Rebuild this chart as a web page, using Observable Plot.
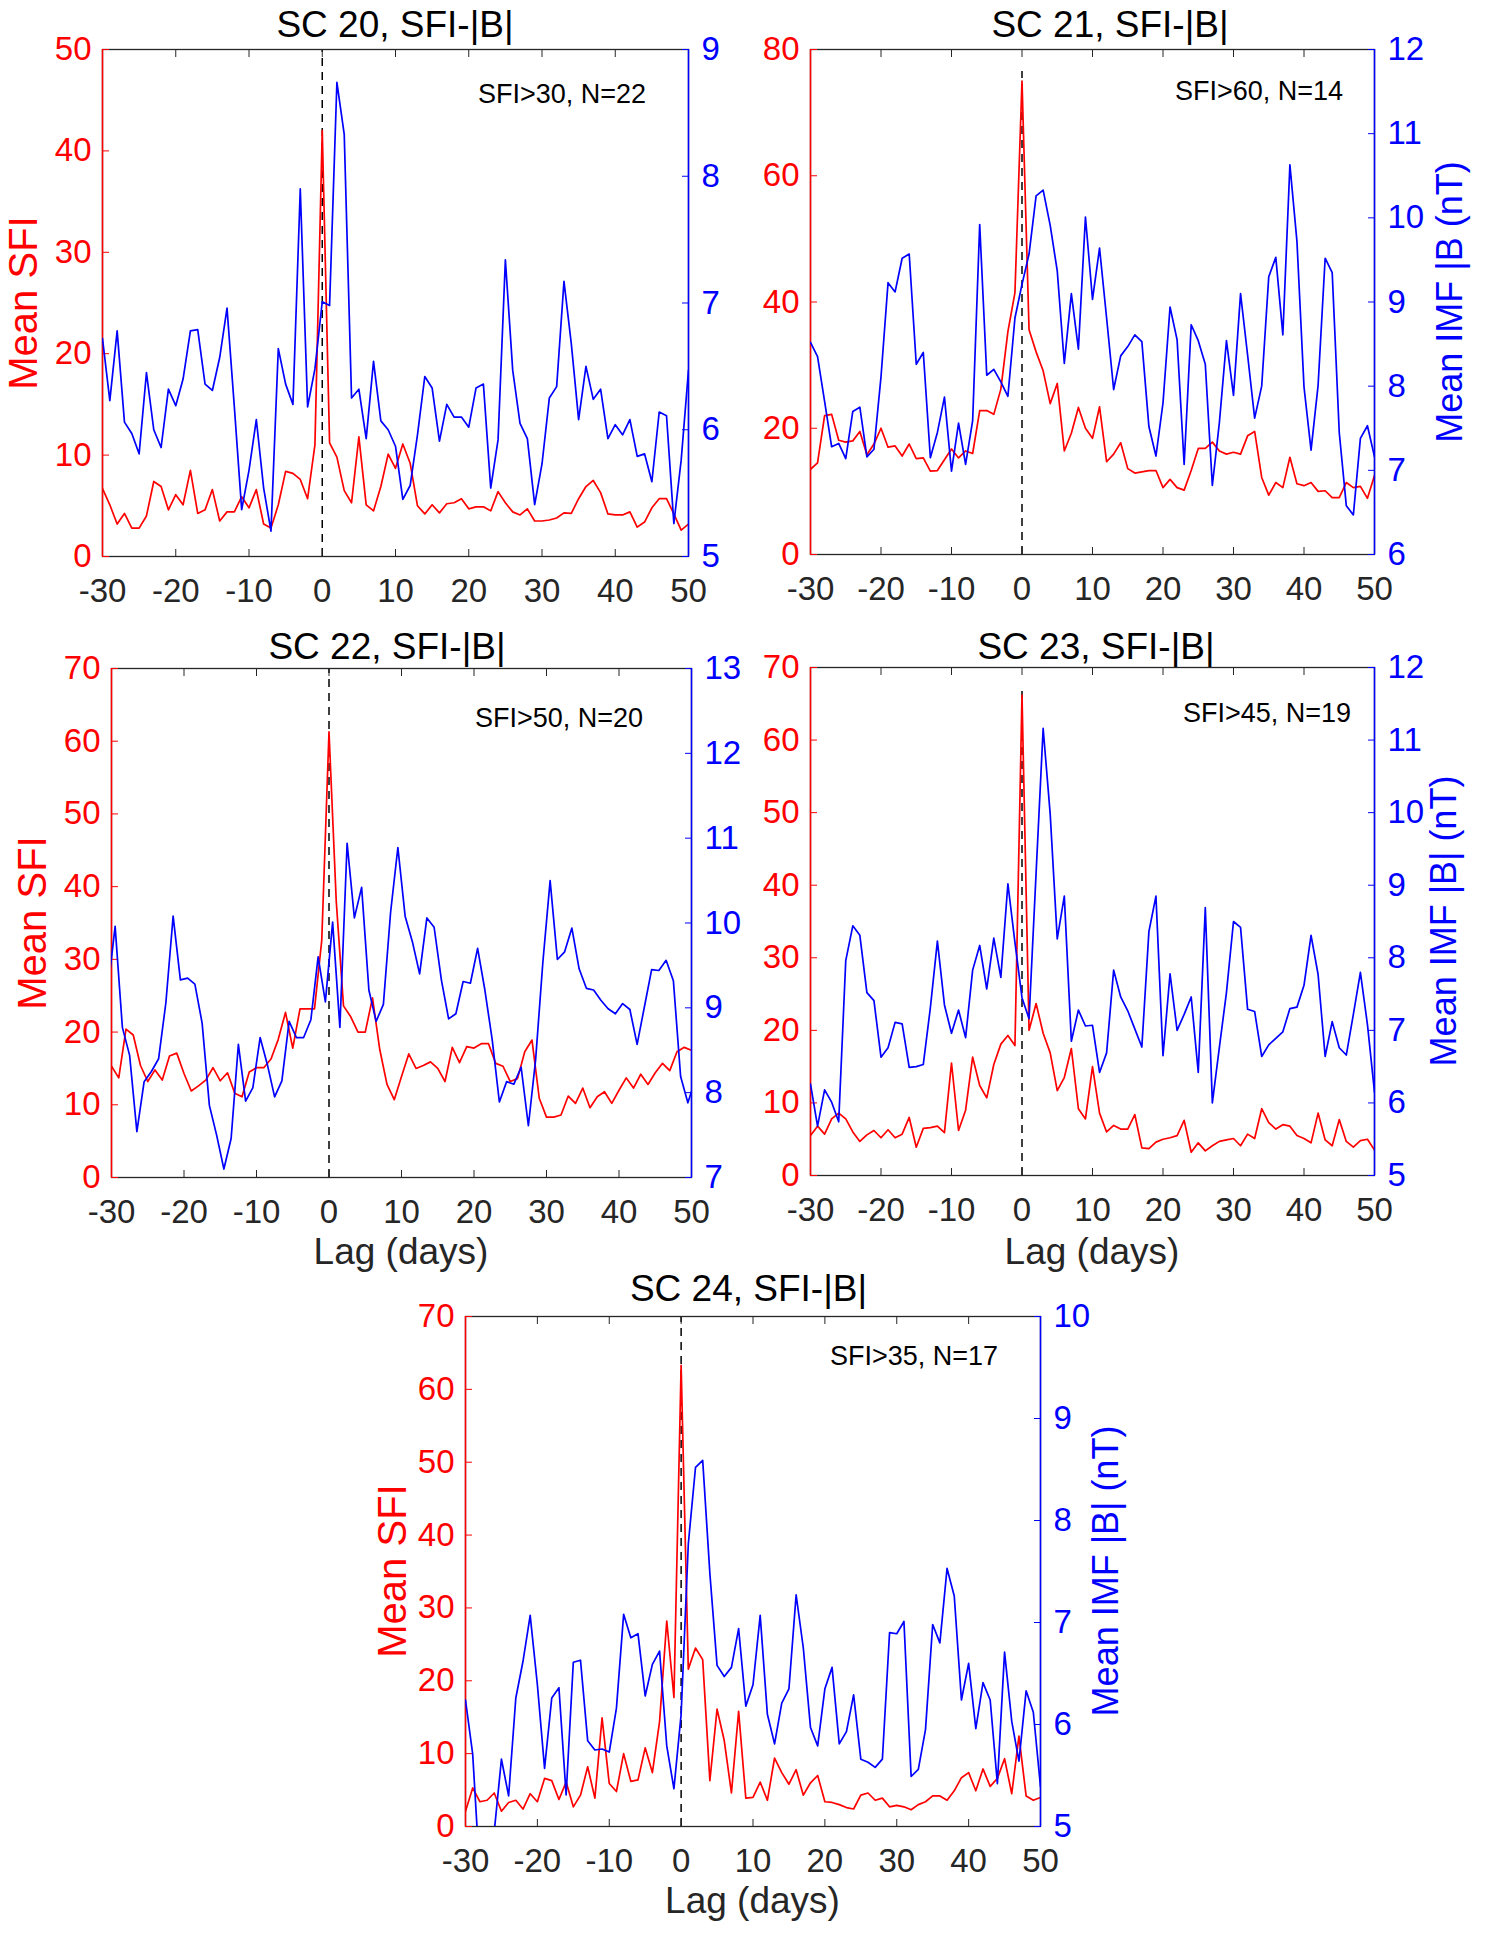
<!DOCTYPE html>
<html><head><meta charset="utf-8">
<script src="https://cdn.jsdelivr.net/npm/d3@7"></script>
<script src="https://cdn.jsdelivr.net/npm/@observablehq/plot@0.6"></script>
<style>
body{margin:0;background:#fff;}
#fig{position:relative;width:1490px;height:1938px;background:#fff;overflow:hidden;font-family:"Liberation Sans",Arial,Helvetica,sans-serif;}
.abs{position:absolute;white-space:nowrap;line-height:1;}
</style></head>
<body><div id="fig"></div>
<script>
// ---------------- data ----------------
const lags = d3.range(-30, 51);            // -30 .. 50 days
const lagsHalf = d3.range(-30.5, 51, 1);   // -30.5 .. 50.5 (SC 22 |B| sampling)
const xTicks = [-30, -20, -10, 0, 10, 20, 30, 40, 50];

const titles = ["SC 20, SFI-|B|", "SC 21, SFI-|B|", "SC 22, SFI-|B|", "SC 23, SFI-|B|", "SC 24, SFI-|B|"];
const notes = ["SFI>30, N=22", "SFI>60, N=14", "SFI>50, N=20", "SFI>45, N=19", "SFI>35, N=17"];
const sfiLabel = "Mean SFI";
const imfLabels = [null, "Mean IMF |B (nT)", null, "Mean IMF |B| (nT)", "Mean IMF |B| (nT)"];
const lagLabel = "Lag (days)";

const sfiDomains = [[0, 50], [0, 80], [0, 70], [0, 70], [0, 70]];
const sfiTicks = [[0, 10, 20, 30, 40, 50], [0, 20, 40, 60, 80], [0, 10, 20, 30, 40, 50, 60, 70], [0, 10, 20, 30, 40, 50, 60, 70], [0, 10, 20, 30, 40, 50, 60, 70]];
const imfDomains = [[5, 9], [6, 12], [7, 13], [5, 12], [5, 10]];
const imfTicks = [[5, 6, 7, 8, 9], [6, 7, 8, 9, 10, 11, 12], [7, 8, 9, 10, 11, 12, 13], [5, 6, 7, 8, 9, 10, 11, 12], [5, 6, 7, 8, 9, 10]];
const dashTops = [50, 76.5, 70, 67.5, 70];

const sc20Sfi = [6.7, 5.1, 3.2, 4.25, 2.8, 2.8, 4.0, 7.4, 6.9, 4.6,
  6.1, 5.1, 8.5, 4.25, 4.6, 6.6, 3.5, 4.4, 4.4, 5.9,
  4.8, 6.6, 3.2, 2.8, 5.1, 8.4, 8.2, 7.6, 5.7, 11.0,
  42.0, 11.2, 9.8, 6.5, 5.3, 11.8, 5.1, 4.5, 6.9, 10.1,
  8.7, 11.1, 9.2, 5.0, 4.2, 5.1, 4.3, 5.2, 5.3, 5.7,
  4.7, 4.9, 4.9, 4.5, 6.4, 5.3, 4.4, 4.1, 4.7, 3.5,
  3.5, 3.6, 3.8, 4.3, 4.25, 5.7, 6.9, 7.5, 6.3, 4.2,
  4.1, 4.1, 4.4, 2.9, 3.4, 4.8, 5.7, 5.7, 4.2, 2.6, 3.2];
const sc20Imf = [6.72, 6.23, 6.78, 6.06, 5.97, 5.81, 6.45, 6.00, 5.86, 6.32,
  6.19, 6.40, 6.78, 6.79, 6.36, 6.31, 6.57, 6.96, 6.18, 5.37,
  5.68, 6.08, 5.54, 5.20, 6.64, 6.36, 6.20, 7.90, 6.18, 6.48,
  7.01, 6.98, 8.74, 8.33, 6.25, 6.32, 5.93, 6.54, 6.07, 6.00,
  5.87, 5.45, 5.56, 5.96, 6.42, 6.33, 5.91, 6.20, 6.10, 6.10,
  6.02, 6.33, 6.36, 5.54, 5.92, 7.34, 6.47, 6.05, 5.93, 5.41,
  5.73, 6.25, 6.34, 7.17, 6.68, 6.08, 6.50, 6.24, 6.32, 5.93,
  6.04, 5.96, 6.08, 5.79, 5.81, 5.59, 6.14, 6.11, 5.26, 5.76, 6.47];

const sc21Sfi = [13.5, 14.5, 22.0, 22.2, 18.1, 17.8, 18.0, 19.5, 15.8, 17.5,
  20.0, 17.0, 17.2, 15.6, 17.5, 15.2, 15.3, 13.2, 13.3, 15.0,
  16.7, 15.3, 16.4, 16.0, 22.8, 22.8, 22.2, 26.2, 35.3, 41.5,
  75.0, 35.6, 32.1, 29.1, 23.9, 27.1, 16.4, 19.2, 23.3, 20.0,
  18.4, 23.4, 14.7, 15.9, 17.7, 13.6, 12.9, 13.1, 13.3, 13.3,
  10.6, 11.9, 10.6, 10.2, 13.3, 16.8, 16.8, 17.8, 16.4, 15.9,
  16.2, 15.9, 18.8, 19.5, 12.2, 9.4, 11.4, 10.6, 15.4, 11.2,
  10.9, 11.4, 10.0, 10.1, 9.0, 9.0, 11.4, 10.6, 10.8, 8.9, 12.5];
const sc21Imf = [8.52, 8.35, 7.82, 7.28, 7.32, 7.14, 7.70, 7.75, 7.16, 7.25,
  8.11, 9.23, 9.12, 9.52, 9.57, 8.26, 8.40, 7.15, 7.45, 7.87,
  6.99, 7.56, 7.07, 7.59, 9.92, 8.13, 8.20, 8.05, 7.88, 8.81,
  9.21, 9.57, 10.26, 10.33, 9.91, 9.37, 8.27, 9.10, 8.44, 10.01,
  9.03, 9.64, 8.81, 7.96, 8.36, 8.47, 8.61, 8.53, 7.52, 7.17,
  7.80, 8.94, 8.55, 7.07, 8.73, 8.54, 8.26, 6.82, 7.57, 8.54,
  7.89, 9.10, 8.37, 7.62, 8.00, 9.30, 9.53, 8.61, 10.63, 9.72,
  7.99, 7.24, 8.01, 9.52, 9.35, 7.45, 6.58, 6.47, 7.38, 7.53, 7.16];

const sc22Sfi = [15.3, 13.7, 20.4, 19.6, 15.4, 13.2, 14.8, 13.4, 16.7, 17.1,
  14.3, 11.9, 12.6, 13.4, 15.1, 13.3, 14.4, 11.6, 11.1, 14.5,
  15.1, 15.1, 16.3, 19.0, 22.7, 17.8, 23.2, 23.2, 23.2, 32.6,
  61.3, 38.0, 23.6, 22.1, 20.0, 20.0, 24.7, 17.6, 12.8, 10.7,
  13.9, 17.0, 15.0, 15.4, 15.9, 15.0, 13.2, 17.9, 15.8, 18.0,
  17.8, 18.4, 18.4, 15.7, 15.3, 13.2, 13.6, 17.3, 18.9, 10.9,
  8.3, 8.3, 8.6, 11.2, 10.2, 12.3, 9.6, 11.1, 11.8, 10.2,
  12.0, 13.7, 12.3, 14.2, 12.8, 14.4, 15.7, 14.7, 17.3, 17.9, 17.5];
const sc22Imf = [9.22,
  9.96, 8.77, 8.44, 7.54, 8.13, 8.25, 8.40, 9.06, 10.08, 9.33,
  9.35, 9.28, 8.82, 7.85, 7.50, 7.10, 7.46, 8.57, 7.90, 8.06,
  8.65, 8.33, 7.95, 8.14, 8.84, 8.65, 8.65, 8.86, 9.60, 9.07,
  10.01, 8.77, 10.94, 10.06, 10.42, 9.21, 8.84, 9.04, 10.13, 10.89,
  10.08, 9.78, 9.40, 10.06, 9.95, 9.33, 8.87, 8.93, 9.31, 9.29,
  9.70, 9.21, 8.63, 7.89, 8.13, 8.10, 8.30, 7.61, 8.39, 9.54,
  10.50, 9.57, 9.66, 9.94, 9.46, 9.23, 9.21, 9.09, 8.99, 8.93,
  9.05, 8.98, 8.57, 9.01, 9.45, 9.44, 9.56, 9.32, 8.19, 7.88,
  8.15];

const sc23Sfi = [5.5, 6.8, 5.7, 7.8, 8.6, 7.8, 6.0, 4.7, 5.6, 6.2,
  5.2, 6.3, 5.2, 5.7, 8.0, 3.9, 6.5, 6.6, 6.8, 5.9,
  15.5, 6.2, 9.0, 16.3, 12.4, 10.7, 15.3, 18.1, 19.3, 17.9,
  66.2, 20.0, 23.7, 19.6, 16.9, 11.7, 13.5, 17.5, 9.2, 7.8,
  15.0, 8.6, 6.0, 6.9, 6.4, 6.4, 8.4, 3.8, 3.7, 4.6,
  5.0, 5.2, 5.5, 7.6, 3.2, 4.5, 3.4, 4.1, 4.7, 4.9,
  5.1, 4.1, 5.7, 5.1, 9.2, 7.3, 6.4, 7.0, 6.8, 5.5,
  5.1, 4.5, 8.6, 4.9, 4.1, 7.7, 4.7, 3.9, 4.8, 5.0, 3.5];
const sc23Imf = [6.26, 5.68, 6.18, 6.01, 5.74, 7.96, 8.44, 8.31, 7.52, 7.41,
  6.63, 6.76, 7.11, 7.09, 6.49, 6.50, 6.53, 7.31, 8.23, 7.35,
  6.96, 7.28, 6.90, 7.83, 8.17, 7.57, 8.27, 7.73, 9.02, 8.21,
  7.45, 7.16, 9.17, 11.16, 9.98, 8.26, 8.85, 6.85, 7.28, 7.06,
  7.07, 6.42, 6.69, 7.83, 7.46, 7.27, 7.02, 6.77, 8.36, 8.85,
  6.65, 7.78, 7.00, 7.22, 7.46, 6.42, 8.69, 6.00, 6.77, 7.52,
  8.50, 8.42, 7.29, 7.26, 6.64, 6.80, 6.89, 6.98, 7.30, 7.32,
  7.62, 8.31, 7.77, 6.64, 7.12, 6.76, 6.66, 7.22, 7.80, 7.08, 6.15];

const sc24Sfi = [2.1, 5.3, 3.4, 3.6, 4.6, 2.1, 3.3, 3.6, 2.4, 4.5,
  3.4, 6.6, 6.3, 3.7, 6.1, 2.7, 4.3, 8.2, 3.9, 14.9,
  5.9, 4.8, 10.0, 6.2, 6.4, 10.8, 7.4, 14.4, 28.2, 17.7,
  63.3, 21.6, 24.5, 22.9, 6.3, 16.1, 11.8, 4.6, 15.8, 3.9,
  4.0, 6.1, 3.6, 9.4, 7.4, 5.8, 7.8, 4.3, 6.0, 7.0,
  3.4, 3.3, 3.0, 2.6, 2.4, 4.3, 4.6, 3.6, 3.9, 2.7,
  2.9, 2.7, 2.3, 3.0, 3.4, 4.2, 4.2, 3.6, 4.9, 6.7,
  7.4, 4.9, 7.9, 5.5, 6.6, 9.3, 4.5, 12.4, 4.2, 3.6, 4.0];
const sc24Imf = [6.24, 5.71, 4.52, 4.5, 4.95, 5.66, 5.30, 6.26, 6.62, 7.07,
  6.39, 5.57, 6.26, 6.36, 5.31, 6.61, 6.63, 5.84, 5.75, 5.76,
  5.73, 6.16, 7.08, 6.85, 6.89, 6.28, 6.59, 6.72, 5.79, 5.37,
  6.10, 7.77, 8.52, 8.59, 7.48, 6.58, 6.47, 6.56, 6.94, 6.18,
  6.39, 7.07, 6.10, 5.81, 6.21, 6.35, 7.27, 6.75, 5.97, 5.79,
  6.35, 6.56, 5.81, 5.93, 6.29, 5.66, 5.63, 5.58, 5.66, 6.90,
  6.89, 7.01, 5.49, 5.56, 5.95, 6.98, 6.80, 7.53, 7.26, 6.24,
  6.60, 5.96, 6.41, 6.24, 5.42, 6.71, 6.03, 5.64, 6.33, 6.12, 5.39];

const sfiSeries = [sc20Sfi, sc21Sfi, sc22Sfi, sc23Sfi, sc24Sfi];
const imfSeries = [sc20Imf, sc21Imf, sc22Imf, sc23Imf, sc24Imf];
const imfLags = [lags, lags, lagsHalf, lags, lags];

// ---------------- layout (pixels) ----------------
const FONT = '"Liberation Sans", Arial, Helvetica, sans-serif';
const RED = "#ff0000", BLUE = "#0000ff", INK = "#262626";
const TICK_FS = 33;
const fmt = d => String(d);   // plain hyphen-minus, integers
const layout = [
  {box: [102, 49, 688, 556], titleY: 24, titleDx: 0, note: [42, 45], leftDx: -79, rightDx: null, lagY: null},
  {box: [810, 49, 1374, 554], titleY: 24, titleDx: 18, note: [31, 42], leftDx: null, rightDx: 76, lagY: null},
  {box: [111, 668, 691, 1177], titleY: 646, titleDx: -14, note: [48, 50], leftDx: -79, rightDx: null, lagY: 1251},
  {box: [810, 667, 1374, 1175], titleY: 646, titleDx: 4, note: [23, 46], leftDx: null, rightDx: 70, lagY: 1251},
  {box: [465, 1316, 1040, 1826], titleY: 1288, titleDx: -4, note: [42, 40], leftDx: -73, rightDx: 66, lagY: 1900}
];

const fig = document.getElementById("fig");
function addText(txt, x, y, size, color, rotate) {
  const d = document.createElement("div");
  d.className = "abs";
  d.textContent = txt;
  d.style.left = x + "px";
  d.style.top = y + "px";
  d.style.fontSize = size + "px";
  d.style.color = color;
  d.style.transform = "translate(-50%,-50%)" + (rotate ? " rotate(-90deg)" : "");
  fig.appendChild(d);
  return d;
}

layout.forEach((lay, i) => {
  const [L, T, R, B] = lay.box;
  const mL = 90, mR = 90, mT = 20, mB = 60;
  const W = R - L + mL + mR, H = B - T + mT + mB;
  const base = {
    width: W, height: H,
    marginLeft: mL, marginRight: mR, marginTop: mT, marginBottom: mB,
    style: {background: "transparent", fontFamily: FONT, fontSize: TICK_FS + "px", overflow: "visible"}
  };
  const sfi = sfiSeries[i];
  const imf = imfSeries[i];

  const left = Plot.plot({
    ...base,
    x: {domain: [-30, 50], axis: null},
    y: {domain: sfiDomains[i], axis: null},
    marks: [
      Plot.ruleX([0], {y1: sfiDomains[i][0], y2: dashTops[i], stroke: "#000", strokeWidth: 1.5, strokeDasharray: "8,6"}),
      Plot.line(sfi, {x: lags, y: sfi, stroke: RED, strokeWidth: 1.7, clip: true}),
      Plot.frame({stroke: INK, strokeWidth: 1.3}),
      Plot.axisX(xTicks, {anchor: "bottom", tickSize: -7, tickPadding: 29, tickFormat: fmt, color: INK, fontSize: TICK_FS, label: null}),
      Plot.axisX(xTicks, {anchor: "top", tickSize: -7, tickFormat: () => "", color: INK, label: null}),
      Plot.axisY(sfiTicks[i], {anchor: "left", tickSize: -7, tickPadding: 18, tickFormat: fmt, color: RED, fontSize: TICK_FS, label: null}),
      Plot.ruleX([-30], {stroke: RED, strokeWidth: 1.5})
    ]
  });
  const right = Plot.plot({
    ...base,
    x: {domain: [-30, 50], axis: null},
    y: {domain: imfDomains[i], axis: null},
    marks: [
      Plot.line(imf, {x: imfLags[i], y: imf, stroke: BLUE, strokeWidth: 1.7, clip: true}),
      Plot.axisY(imfTicks[i], {anchor: "right", tickSize: -7, tickPadding: 20, tickFormat: fmt, color: BLUE, fontSize: TICK_FS, label: null}),
      Plot.ruleX([50], {stroke: BLUE, strokeWidth: 1.5})
    ]
  });
  for (const svg of [left, right]) {
    svg.style.position = "absolute";
    svg.style.left = (L - mL) + "px";
    svg.style.top = (T - mT) + "px";
    fig.appendChild(svg);
  }

  addText(titles[i], (L + R) / 2 + lay.titleDx, lay.titleY, 37, "#000");
  const n = addText(notes[i], 0, T + lay.note[1], 27, "#000");
  n.style.left = "auto";
  n.style.right = (1490 - (R - lay.note[0])) + "px";
  n.style.transform = "translateY(-50%)";
  if (lay.leftDx !== null) addText(sfiLabel, L + lay.leftDx, (T + B) / 2, 40, RED, true);
  if (lay.rightDx !== null && imfLabels[i]) addText(imfLabels[i], R + lay.rightDx, (T + B) / 2, 36, BLUE, true);
  if (lay.lagY !== null) addText(lagLabel, (L + R) / 2, lay.lagY, 37, INK);
});
</script>
</body></html>
